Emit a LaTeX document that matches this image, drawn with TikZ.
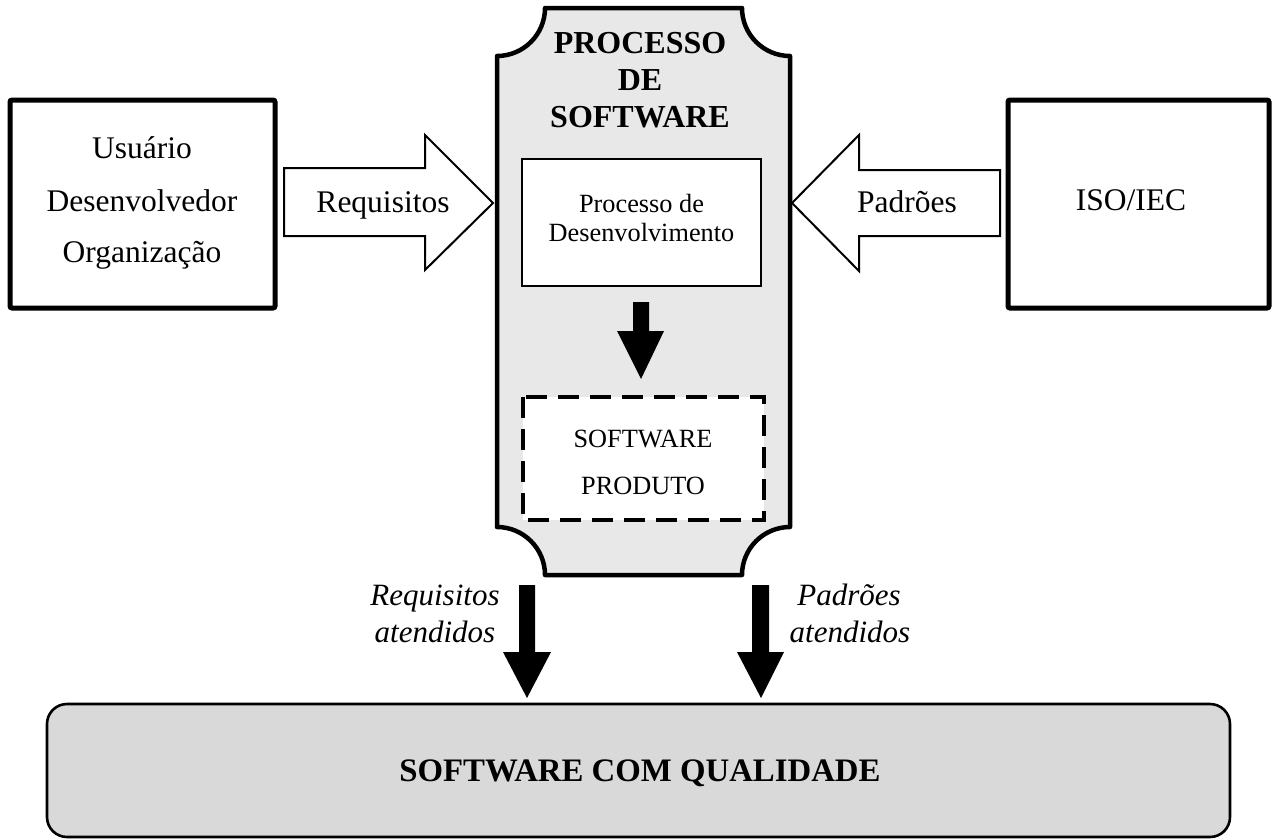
\documentclass[tikz,border=0pt]{standalone}
\usepackage{fontspec}
\setmainfont{Liberation Serif}
\definecolor{procfill}{HTML}{E8E8E8}
\definecolor{basefill}{HTML}{D9D9D9}
\begin{document}
\begin{tikzpicture}[x=1pt,y=-1pt,
  bigtxt/.style={anchor=base,inner sep=0pt,font=\fontsize{31.5}{37}\selectfont},
  boldtxt/.style={anchor=base,inner sep=0pt,font=\fontsize{32}{37}\selectfont\bfseries},
  smalltxt/.style={anchor=base,inner sep=0pt,font=\fontsize{26.3}{30}\selectfont},
  itxt/.style={anchor=base,inner sep=0pt,font=\fontsize{31}{37}\selectfont\itshape},
  thickbox/.style={draw,line width=5pt,rounded corners=2pt,fill=white},
  blockarrow/.style={draw,line width=2pt,fill=white,line join=miter},
  blackarrow/.style={fill=black}]
\useasboundingbox (0,0) rectangle (1277,839);

% central process shape
\draw[line width=4.5pt,fill=procfill,line join=round]
  (545,8) -- (742,8) .. controls (742,34.5) and (763.5,56) .. (790,56)
  -- (790,527) .. controls (763.5,527) and (742,548.5) .. (742,575)
  -- (545,575) .. controls (545,548.5) and (523.5,527) .. (497,527)
  -- (497,56) .. controls (523.5,56) and (545,34.5) .. (545,8) -- cycle;

\node[boldtxt] (t1) at (640,53) {PROCESSO};
\node[boldtxt] (t2) at (640,90) {DE};
\node[boldtxt] (t3) at (640,127) {SOFTWARE};

% inner boxes
\draw[line width=1.2pt,fill=white] (522,159) rectangle (761,286);
\node[smalltxt] (d1) at (641.5,212) {Processo de};
\node[smalltxt] (d2) at (641.5,241) {Desenvolvimento};

\draw[line width=4pt,fill=white,dash pattern=on 21pt off 11pt] (523,397) rectangle (764,520);
\node[smalltxt] (p1) at (643,447) {SOFTWARE};
\node[smalltxt] (p2) at (643,494) {PRODUTO};

% middle black arrow
\path[blackarrow] (633,302) -- (649,302) -- (649,331) -- (664,331) -- (641,379)
  -- (617,331) -- (633,331) -- cycle;

% left and right boxes
\draw[thickbox] (10,100) rectangle (275,308);
\node[bigtxt] (u1) at (142,158) {Usuário};
\node[bigtxt] (u2) at (142,211) {Desenvolvedor};
\node[bigtxt] (u3) at (142,262) {Organização};

\draw[thickbox] (1008,100) rectangle (1269,308);
\node[bigtxt] (iso) at (1131,210) {ISO/IEC};

% block arrows
\draw[blockarrow] (284,168) -- (425,168) -- (425,135) -- (493,203) -- (425,270)
  -- (425,236) -- (284,236) -- cycle;
\node[bigtxt] (req) at (383,212) {Requisitos};

\draw[blockarrow] (1000,170) -- (859,170) -- (859,135) -- (792,203) -- (859,271)
  -- (859,236) -- (1000,236) -- cycle;
\node[bigtxt] (pad) at (907,212) {Padrões};

% bottom arrows
\path[blackarrow] (519,585) -- (535,585) -- (535,652) -- (551,652) -- (527,698)
  -- (503,652) -- (519,652) -- cycle;
\path[blackarrow] (752,585) -- (769,585) -- (769,652) -- (784,652) -- (761,698)
  -- (737,652) -- (752,652) -- cycle;

\node[itxt] (ra1) at (435,605) {Requisitos};
\node[itxt] (ra2) at (435,642) {atendidos};
\node[itxt] (pa1) at (849,605) {Padrões};
\node[itxt] (pa2) at (850,642) {atendidos};

% bottom box
\draw[line width=2.6pt,fill=basefill,rounded corners=20pt] (47,704) rectangle (1230,837);
\node[boldtxt,font=\fontsize{32.8}{37}\selectfont\bfseries] (q) at (640,781) {SOFTWARE COM QUALIDADE};
\end{tikzpicture}
\end{document}
